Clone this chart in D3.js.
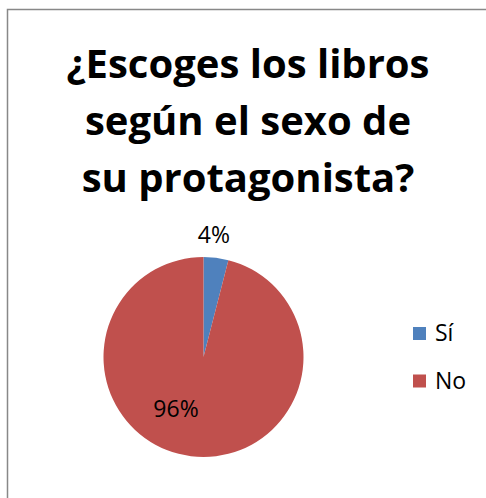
<!DOCTYPE html>
<html>
<head>
<meta charset="utf-8">
<script src="https://cdn.jsdelivr.net/npm/d3@7"></script>
<style>
  html, body { margin: 0; padding: 0; background: #fff; }
  svg { display: block; }
  text { font-family: "Open Sans", Lato, sans-serif; fill: #000; }
</style>
</head>
<body>
<svg id="chart" width="486" height="498"></svg>
<script>
// chart data
const titleLines = ["¿Escoges los libros", "según el sexo de", "su protagonista?"];
const categories = ["Sí", "No"];
const values = [4, 96];
const colors = ["#4f81bd", "#c0504d"];

const width = 486, height = 498;
const svg = d3.select("#chart");

// outer frame (runs off the right and bottom edge)
svg.append("rect")
    .attr("x", 7.5).attr("y", 9.5)
    .attr("width", 520).attr("height", 520)
    .attr("fill", "#fff")
    .attr("stroke", "#888")
    .attr("stroke-width", 1.5);

// title
const title = svg.append("text")
    .attr("text-anchor", "middle")
    .attr("font-weight", "bold")
    .attr("font-size", 40);
titleLines.forEach(function(line, i) {
    title.append("tspan")
        .attr("x", 248)
        .attr("y", 78 + i * 57)
        .text(line);
});

// pie
const cx = 203.5, cy = 357, radius = 100;
const data = categories.map((c, i) => ({ name: c, value: values[i] }));

const pie = d3.pie().sort(null).value(d => d.value);
const arc = d3.arc().innerRadius(0).outerRadius(radius);
const outerLabelArc = d3.arc().innerRadius(radius * 1.23).outerRadius(radius * 1.23);
const innerLabelArc = d3.arc().innerRadius(radius * 0.6).outerRadius(radius * 0.6);

const g = svg.append("g").attr("transform", "translate(" + cx + "," + cy + ")");
const arcs = pie(data);

g.selectAll("path.slice")
    .data(arcs)
    .enter().append("path")
    .attr("class", "slice")
    .attr("d", arc)
    .attr("fill", (d, i) => colors[i]);

// data labels: small slice outside, big slice inside (best fit)
g.selectAll("text.label")
    .data(arcs)
    .enter().append("text")
    .attr("class", "label")
    .attr("text-anchor", "middle")
    .attr("font-size", 23)
    .attr("dy", "0.36em")
    .attr("transform", function(d) {
        const small = (d.endAngle - d.startAngle) < 0.5;
        const p = small ? outerLabelArc.centroid(d) : innerLabelArc.centroid(d);
        if (!small) { p[0] -= 20; p[1] -= 8; }
        else { p[0] -= 5; }
        return "translate(" + p[0] + "," + p[1] + ")";
    })
    .text(d => d3.format(".0%")(d.value / d3.sum(values)));

// legend
const legend = svg.append("g").attr("transform", "translate(413,327)");
const item = legend.selectAll("g.item")
    .data(categories)
    .enter().append("g")
    .attr("class", "item")
    .attr("transform", (d, i) => "translate(0," + i * 47.5 + ")");
item.append("rect")
    .attr("width", 13).attr("height", 13)
    .attr("fill", (d, i) => colors[i]);
item.append("text")
    .attr("x", 22).attr("y", 14)
    .attr("font-size", 23)
    .text(d => d);
</script>
</body>
</html>
